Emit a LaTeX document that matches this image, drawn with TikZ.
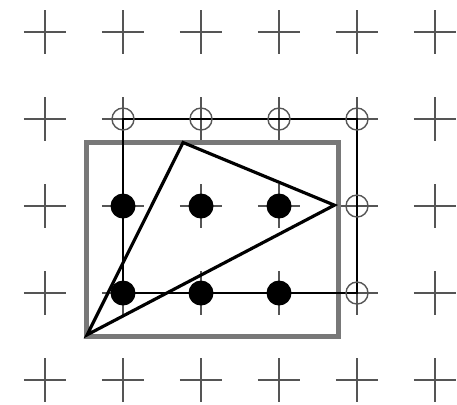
\documentclass[tikz,border=0pt]{standalone}
\usetikzlibrary{positioning,calc}
\definecolor{PlusGray}{RGB}{85,85,85}
\definecolor{FrameGray}{RGB}{120,120,120}
\tikzset{
  plusmark/.style={draw=PlusGray,line width=0.7pt},
  framebox/.style={draw=FrameGray,line width=1.5pt},
  hullline/.style={draw=black,line width=0.6pt},
  triline/.style={draw=black,line width=0.9pt,line join=miter},
  inside/.style={circle,fill=black,inner sep=0pt,minimum size=2.5mm},
  outside/.style={circle,draw=PlusGray,line width=0.4pt,inner sep=0pt,minimum size=2.2mm}
}

\begin{document}
\begin{tikzpicture}[x=0.78cm,y=-0.87cm]
  \useasboundingbox (-0.577,-0.368) rectangle (5.282,4.276);

  % grid of sample points
  \foreach \i in {0,...,5}
    \foreach \j in {0,...,4} {
      \coordinate (g-\i-\j) at (\i,\j);
      \draw[plusmark] (g-\i-\j) +(-0.27,0) -- +(0.27,0) +(0,-0.25) -- +(0,0.25);
    }

  % bounding box of the triangle
  \coordinate (boxnw) at (0.53,1.27);
  \coordinate (boxse) at (3.76,3.5);
  \draw[framebox] (boxnw) rectangle (boxse);

  % sample rectangle
  \draw[hullline] (g-1-1) -- (g-4-1) -- (g-4-3) -- (g-1-3) -- cycle;

  % triangle
  \coordinate (ta) at (0.54,3.48);
  \coordinate (tb) at (1.77,1.27);
  \coordinate (tc) at (3.71,1.99);
  \draw[triline] (ta) -- (tb) -- (tc) -- cycle;

  % covered and uncovered samples
  \foreach \i in {1,2,3} {
    \node[inside] (in-\i-2) at (g-\i-2) {};
    \node[inside] (in-\i-3) at (g-\i-3) {};
  }
  \foreach \i in {1,...,4}
    \node[outside] (out-\i-1) at (g-\i-1) {};
  \node[outside] (out-4-2) at (g-4-2) {};
  \node[outside] (out-4-3) at (g-4-3) {};
\end{tikzpicture}
\end{document}
